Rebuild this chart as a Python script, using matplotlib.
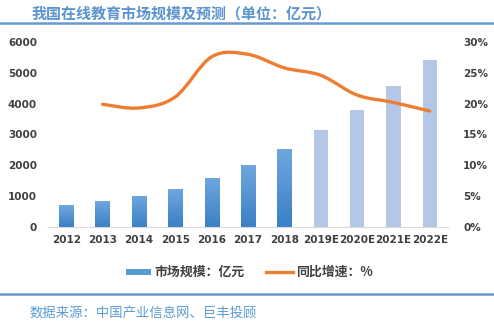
import numpy as np
import matplotlib.pyplot as plt
from matplotlib.path import Path
from matplotlib.patches import PathPatch, Rectangle
from matplotlib.lines import Line2D
from matplotlib.colors import LinearSegmentedColormap

plt.rcParams['font.family'] = ['Noto Sans CJK SC', 'DejaVu Sans']

years = ['2012', '2013', '2014', '2015', '2016', '2017', '2018',
         '2019E', '2020E', '2021E', '2022E']
market_size = [710, 830, 1010, 1230, 1600, 2010, 2530, 3150, 3800, 4570, 5420]
growth_years = years[1:]
growth_rate = [19.9, 19.3, 21.1, 27.6, 28.0, 25.8, 24.6, 21.4, 20.2, 18.8]
n_actual = 7

title = '我国在线教育市场规模及预测（单位：亿元）'
source = '数据来源：中国产业信息网、巨丰投顾'
label_bar = '市场规模：亿元'
label_line = '同比增速：%'

tick_color = '#404040'
rule_color = '#6a9bd0'
forecast_color = '#b4c7e7'
line_color = '#ed7d31'

fig = plt.figure(figsize=(4.94, 3.26), dpi=100)
ax = fig.add_axes([48 / 494, 1 - 227 / 326, 400 / 494, 185 / 326])
ax2 = ax.twinx()

x = np.arange(len(years))
bar_w = 0.39
bars = ax.bar(x, market_size, width=bar_w, color=forecast_color, zorder=2)

# gradient fill for the historical bars
grad = LinearSegmentedColormap.from_list('g', ['#3b80c6', '#6fa7de'])
gimg = np.linspace(0, 1, 64).reshape(-1, 1)
for i in range(n_actual):
    b = bars[i]
    b.set_facecolor('none')
    im = ax.imshow(gimg, cmap=grad, origin='lower', aspect='auto',
                   extent=[b.get_x(), b.get_x() + b.get_width(), 0, b.get_height()],
                   zorder=2)
    im.set_clip_path(b)

ax.set_xlim(-0.5, len(years) - 0.5)
ax.set_ylim(0, 6000)
ax.set_yticks(range(0, 6001, 1000))
ax.set_xticks(x)
ax.set_xticklabels(years)

ax2.set_ylim(0, 30)
ax2.set_yticks(range(0, 31, 5))
ax2.set_yticklabels([f'{v}%' for v in range(0, 31, 5)])

for a in (ax, ax2):
    for s in a.spines.values():
        s.set_visible(False)
    a.tick_params(length=0, labelsize=7.5, colors=tick_color)
    for t in a.get_xticklabels() + a.get_yticklabels():
        t.set_fontweight('bold')
        t.set_family(['DejaVu Sans'])
ax.spines['bottom'].set_visible(True)
ax.spines['bottom'].set_color('#d9d9d9')
ax.tick_params(axis='y', pad=8)
ax.tick_params(axis='x', pad=6)
ax2.tick_params(axis='y', pad=11)

# smoothed growth curve (Catmull-Rom converted to cubic Bezier segments)
gx = np.array([years.index(y) for y in growth_years], dtype=float)
gy = np.array(growth_rate)
pts = np.column_stack([gx, gy])
verts = [pts[0]]
codes = [Path.MOVETO]
for i in range(len(pts) - 1):
    p0 = pts[i - 1] if i > 0 else pts[i]
    p1, p2 = pts[i], pts[i + 1]
    p3 = pts[i + 2] if i + 2 < len(pts) else pts[i + 1]
    c1 = p1 + (p2 - p0) / 6
    c2 = p2 - (p3 - p1) / 6
    verts += [c1, c2, p2]
    codes += [Path.CURVE4] * 3
ax2.add_patch(PathPatch(Path(verts, codes), facecolor='none', edgecolor=line_color,
                        lw=2.4, capstyle='round', zorder=3))

# title, rules and source line
fig.text(32 / 494, 1 - 13 / 326, title, fontsize=10.8, fontweight='bold',
         color='#5b93cf', va='center', ha='left')
fig.add_artist(Line2D([0, 1], [1 - 22.5 / 326] * 2, color=rule_color, lw=1.8))
fig.add_artist(Line2D([0, 1], [1 - 294 / 326] * 2, color=rule_color, lw=1.8))
fig.text(30 / 494, 1 - 313 / 326, source, fontsize=9.6, fontweight='medium',
         color='#5b9bd5', va='center', ha='left')

# legend
ly = 1 - 272 / 326
fig.add_artist(Rectangle((126 / 494, ly - 3 / 326), 25 / 494, 6 / 326,
                         transform=fig.transFigure, facecolor='#5b9bd5',
                         edgecolor='none'))
fig.text(154 / 494, ly, label_bar, fontsize=9.3, fontweight='bold',
         color=tick_color, va='center', ha='left')
fig.add_artist(Line2D([266 / 494, 293 / 494], [ly, ly], color=line_color, lw=2.4))
fig.text(296 / 494, ly, label_line, fontsize=9.3, fontweight='bold',
         color=tick_color, va='center', ha='left')

fig.savefig('out.png', dpi=100)
